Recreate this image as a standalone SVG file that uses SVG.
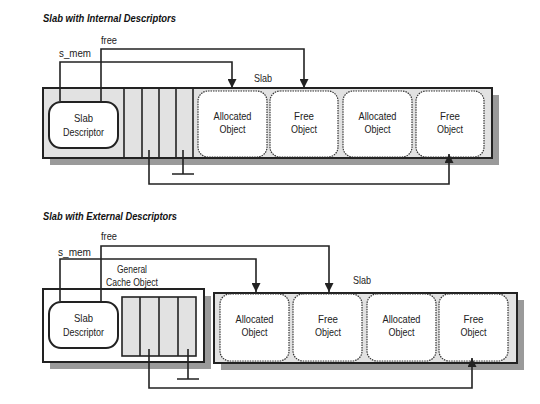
<svg xmlns="http://www.w3.org/2000/svg" width="540" height="404" viewBox="0 0 540 404">
<style>
.t{font-family:"Liberation Sans Narrow","Liberation Sans",Arial,sans-serif;font-size:11px;fill:#222}
.c{text-anchor:middle}
.title{font-family:"Liberation Sans",Arial,sans-serif;font-size:10.5px;font-weight:bold;font-style:italic;fill:#111}
.shadow{fill:#9a9a9a}
.box{stroke:#222;stroke-width:2}
.obj{fill:#fff;stroke:#333;stroke-width:1.2;stroke-dasharray:1.5 1}
.desc{fill:#fff;stroke:#222;stroke-width:2}
.ln{fill:none;stroke:#222;stroke-width:1.6}
.div{stroke:#222;stroke-width:1.6}
</style>
<defs>
<marker id="ah" viewBox="0 0 10 10" refX="10" refY="5" markerWidth="10" markerHeight="9" markerUnits="userSpaceOnUse" orient="auto">
<path d="M0,0 L10,5 L0,10 z" fill="#222"/>
</marker>
</defs>

<text class="title" x="43" y="22" textLength="133" lengthAdjust="spacingAndGlyphs">Slab with Internal Descriptors</text>

<g id="slab1">
<rect class="shadow" x="50" y="95" width="449" height="70"/>
<rect class="box" x="43" y="88" width="449" height="70" fill="#e2e2e2"/>
<text class="t c" x="263" y="82" textLength="18" lengthAdjust="spacingAndGlyphs">Slab</text>
</g>
<g id="freelist1">
<line class="div" x1="124" y1="88" x2="124" y2="158"/>
<line class="div" x1="142" y1="88" x2="142" y2="158"/>
<line class="div" x1="159" y1="88" x2="159" y2="158"/>
<line class="div" x1="176" y1="88" x2="176" y2="158"/>
<line class="div" x1="193" y1="88" x2="193" y2="158"/>
</g>
<g id="desc1">
<rect class="desc" x="49" y="102" width="69" height="46" rx="12"/>
<text class="t c" x="83.5" y="122" textLength="19" lengthAdjust="spacingAndGlyphs">Slab</text>
<text class="t c" x="83.5" y="136" textLength="41" lengthAdjust="spacingAndGlyphs">Descriptor</text>
</g>
<g id="obj1a">
<rect class="obj" x="198" y="91" width="69" height="66" rx="10"/>
<text class="t c" x="232.5" y="120" textLength="38" lengthAdjust="spacingAndGlyphs">Allocated</text>
<text class="t c" x="232.5" y="133" textLength="26" lengthAdjust="spacingAndGlyphs">Object</text>
</g>
<g id="obj1b">
<rect class="obj" x="270" y="91" width="68" height="66" rx="10"/>
<text class="t c" x="304" y="120" textLength="20" lengthAdjust="spacingAndGlyphs">Free</text>
<text class="t c" x="304" y="133" textLength="26" lengthAdjust="spacingAndGlyphs">Object</text>
</g>
<g id="obj1c">
<rect class="obj" x="343" y="91" width="69" height="66" rx="10"/>
<text class="t c" x="377.5" y="120" textLength="38" lengthAdjust="spacingAndGlyphs">Allocated</text>
<text class="t c" x="377.5" y="133" textLength="26" lengthAdjust="spacingAndGlyphs">Object</text>
</g>
<g id="obj1d">
<rect class="obj" x="416" y="91" width="68" height="66" rx="10"/>
<text class="t c" x="450" y="120" textLength="20" lengthAdjust="spacingAndGlyphs">Free</text>
<text class="t c" x="450" y="133" textLength="26" lengthAdjust="spacingAndGlyphs">Object</text>
</g>
<g id="labels1">
<text class="t" x="101" y="44" textLength="16" lengthAdjust="spacingAndGlyphs">free</text>
<text class="t" x="59" y="57" textLength="32" lengthAdjust="spacingAndGlyphs">s_mem</text>
</g>
<g id="connectors1">
<path class="ln" d="M60,101 V62 H232 V88" marker-end="url(#ah)"/>
<path class="ln" d="M101,101 V49 H304 V88" marker-end="url(#ah)"/>
<path class="ln" d="M149,150 V184 H449 V154" marker-end="url(#ah)"/>
<path class="ln" d="M183,150 V174 M172,174 H194"/>
</g>

<text class="title" x="43" y="220" textLength="134" lengthAdjust="spacingAndGlyphs">Slab with External Descriptors</text>

<g id="cache2">
<rect class="shadow" x="50" y="296" width="161" height="73"/>
<rect class="box" x="43" y="289" width="161" height="73" fill="#fff"/>
<text class="t c" x="132" y="273" textLength="30" lengthAdjust="spacingAndGlyphs">General</text>
<text class="t c" x="132" y="286" textLength="52" lengthAdjust="spacingAndGlyphs">Cache Object</text>
</g>
<g id="freelist2">
<rect x="122" y="297" width="74" height="59" fill="#e2e2e2" stroke="#222" stroke-width="1.6"/>
<line class="div" x1="140" y1="297" x2="140" y2="356"/>
<line class="div" x1="159" y1="297" x2="159" y2="356"/>
<line class="div" x1="178" y1="297" x2="178" y2="356"/>
</g>
<g id="desc2">
<rect class="desc" x="49" y="302" width="69" height="46" rx="12"/>
<text class="t c" x="83.5" y="322" textLength="19" lengthAdjust="spacingAndGlyphs">Slab</text>
<text class="t c" x="83.5" y="336" textLength="41" lengthAdjust="spacingAndGlyphs">Descriptor</text>
</g>
<g id="slab2">
<rect class="shadow" x="221" y="300" width="303" height="70"/>
<rect class="box" x="214" y="293" width="303" height="70" fill="#e2e2e2"/>
<text class="t c" x="362" y="284" textLength="18" lengthAdjust="spacingAndGlyphs">Slab</text>
</g>
<g id="obj2a">
<rect class="obj" x="220" y="294" width="69" height="67" rx="10"/>
<text class="t c" x="254.5" y="323" textLength="38" lengthAdjust="spacingAndGlyphs">Allocated</text>
<text class="t c" x="254.5" y="336" textLength="26" lengthAdjust="spacingAndGlyphs">Object</text>
</g>
<g id="obj2b">
<rect class="obj" x="293" y="294" width="69" height="67" rx="10"/>
<text class="t c" x="328" y="323" textLength="20" lengthAdjust="spacingAndGlyphs">Free</text>
<text class="t c" x="328" y="336" textLength="26" lengthAdjust="spacingAndGlyphs">Object</text>
</g>
<g id="obj2c">
<rect class="obj" x="367" y="294" width="69" height="67" rx="10"/>
<text class="t c" x="401.5" y="323" textLength="38" lengthAdjust="spacingAndGlyphs">Allocated</text>
<text class="t c" x="401.5" y="336" textLength="26" lengthAdjust="spacingAndGlyphs">Object</text>
</g>
<g id="obj2d">
<rect class="obj" x="439" y="294" width="69" height="67" rx="10"/>
<text class="t c" x="473.5" y="323" textLength="20" lengthAdjust="spacingAndGlyphs">Free</text>
<text class="t c" x="473.5" y="336" textLength="26" lengthAdjust="spacingAndGlyphs">Object</text>
</g>
<g id="labels2">
<text class="t" x="101" y="240" textLength="16" lengthAdjust="spacingAndGlyphs">free</text>
<text class="t" x="58" y="256" textLength="33" lengthAdjust="spacingAndGlyphs">s_mem</text>
</g>
<g id="connectors2">
<path class="ln" d="M60,301 V259 H256 V292" marker-end="url(#ah)"/>
<path class="ln" d="M101,301 V246 H329 V292" marker-end="url(#ah)"/>
<path class="ln" d="M149,349 V388 H472 V358" marker-end="url(#ah)"/>
<path class="ln" d="M188,349 V379 M177,379 H199"/>
</g>
</svg>
